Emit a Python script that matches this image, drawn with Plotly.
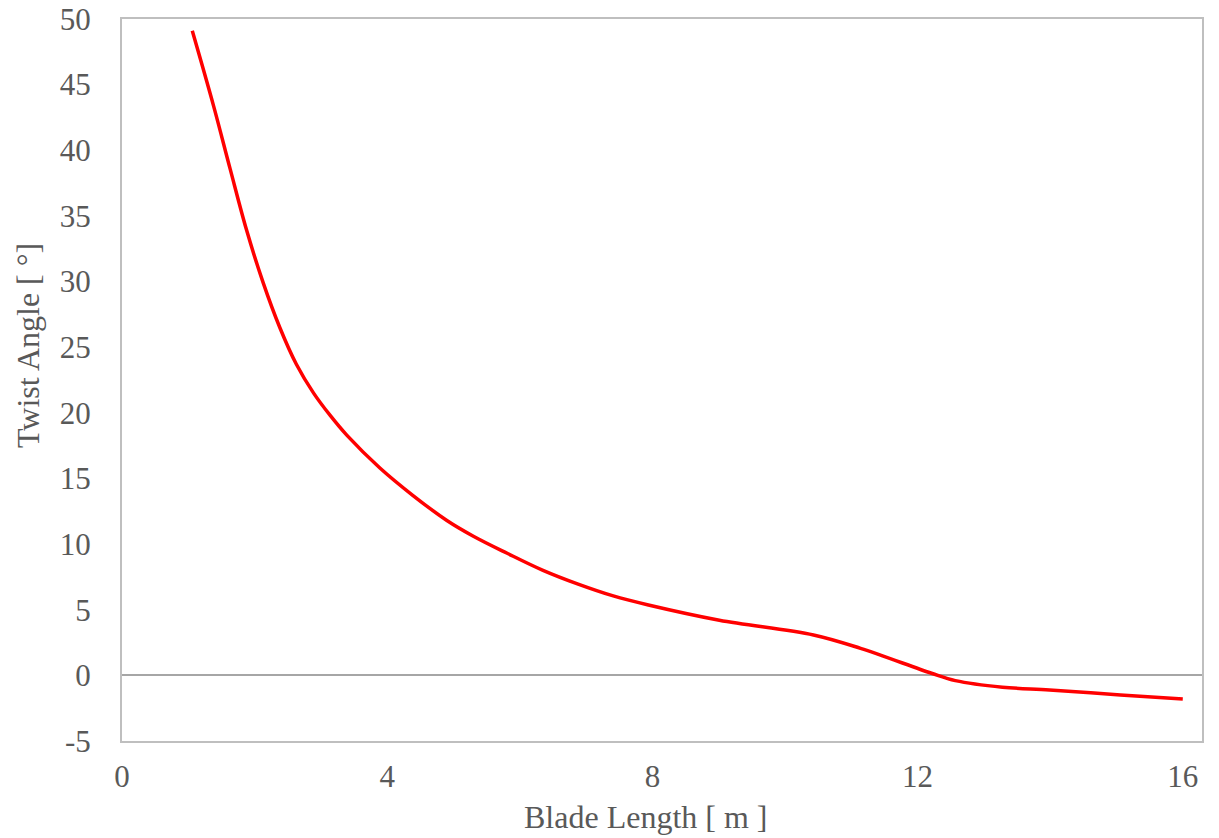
import plotly.graph_objects as go

blade_length = [1.06, 1.38, 1.63, 1.88, 2.13, 2.38, 2.63, 2.89, 3.14, 3.39, 3.89, 4.39, 4.90, 5.30,
                5.81, 6.35, 6.88, 7.41, 7.94, 9.01, 10.43, 11.14, 12.21, 12.57, 13.28, 13.99, 15.06, 16.0]
twist_angle = [49.1, 43.4, 38.6, 33.9, 29.9, 26.5, 23.7, 21.5, 19.8, 18.3, 15.8, 13.7, 11.8, 10.6,
               9.3, 8.0, 6.95, 6.05, 5.36, 4.2, 3.08, 2.06, 0.16, -0.4, -0.9, -1.11, -1.49, -1.8]

x_ticks = [0, 4, 8, 12, 16]
y_ticks = [-5, 0, 5, 10, 15, 20, 25, 30, 35, 40, 45, 50]
x_title = "Blade Length [ m ]"
y_title = "Twist Angle [ °]"

font_family = "Liberation Serif, Times New Roman, serif"
text_color = "#595959"

fig = go.Figure()
fig.add_trace(go.Scatter(
    x=blade_length, y=twist_angle, mode="lines",
    line=dict(color="#FF0000", width=3.5, shape="spline", smoothing=1.0),
    showlegend=False,
))

fig.update_layout(
    width=1219, height=838,
    margin=dict(l=122, r=17, t=19, b=97, autoexpand=False),
    paper_bgcolor="white", plot_bgcolor="white",
    font=dict(family=font_family, color=text_color, size=31),
    xaxis=dict(
        range=[0, 16.29], tickvals=x_ticks, ticktext=[str(v) for v in x_ticks],
        showgrid=False, zeroline=False, automargin=False,
        showline=True, mirror=True, linecolor="#BFBFBF", linewidth=2,
        ticks="", tickfont=dict(size=31, color=text_color), ticklabelstandoff=7,
    ),
    yaxis=dict(
        range=[-5, 50], tickvals=y_ticks, ticktext=[str(v) for v in y_ticks],
        showgrid=False, automargin=False,
        zeroline=True, zerolinecolor="#A6A6A6", zerolinewidth=1.5,
        showline=True, mirror=True, linecolor="#BFBFBF", linewidth=2,
        ticks="", tickfont=dict(size=31, color=text_color), ticklabelstandoff=23,
    ),
    annotations=[
        dict(text=x_title, xref="paper", yref="paper", x=(645 - 122) / 1080, y=-(817 - 741) / 722,
             xanchor="center", yanchor="middle", showarrow=False,
             font=dict(size=32, color=text_color, family=font_family)),
        dict(text=y_title, xref="paper", yref="paper", x=-(122 - 28) / 1080, y=(741 - 346) / 722,
             xanchor="center", yanchor="middle", showarrow=False, textangle=-90,
             font=dict(size=32, color=text_color, family=font_family)),
    ],
)

fig.write_html("out.html")
